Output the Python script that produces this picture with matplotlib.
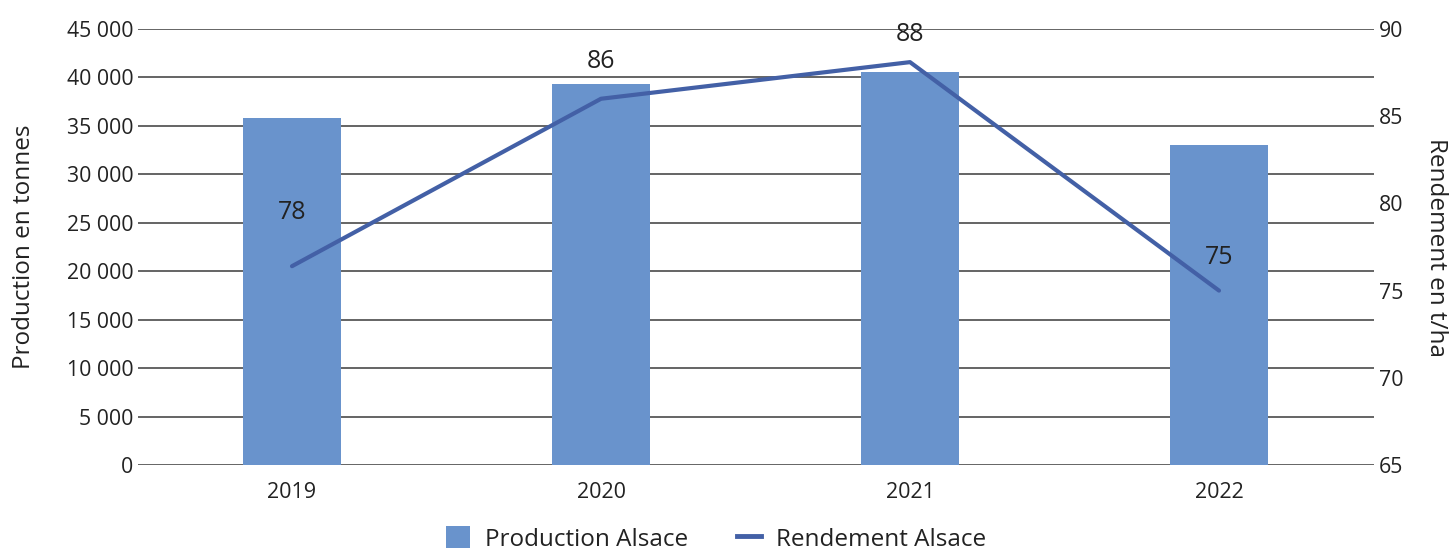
import matplotlib.pyplot as plt
from matplotlib.ticker import FuncFormatter
from matplotlib.lines import Line2D
from matplotlib.patches import Patch

plt.rcParams['font.family'] = ['Open Sans', 'DejaVu Sans']

years = ['2019', '2020', '2021', '2022']
production = [35800, 39300, 40600, 33000]
rendement = [76.4, 86.0, 88.1, 75.0]
rendement_labels = ['78', '86', '88', '75']

bar_color = '#6993CC'
line_color = '#4360A6'
grid_color = '#3a3a3a'
text_color = '#222222'

fig = plt.figure(figsize=(14.49, 5.5), dpi=100)
ax = fig.add_axes([137.5 / 1449, 85 / 550, (1373.5 - 137.5) / 1449, 436 / 550])
x = range(len(years))

ax.bar(x, production, width=0.315, color=bar_color, zorder=2)
ax.set_xlim(-0.5, 3.5)
ax.set_ylim(0, 45000)
ax.set_yticks(range(0, 45001, 5000))
ax.yaxis.set_major_formatter(FuncFormatter(lambda v, p: f'{int(v):,}'.replace(',', ' ')))
ax.grid(axis='y', color=grid_color, linewidth=1.1, zorder=0)
ax.set_axisbelow(True)
for s in ax.spines.values():
    s.set_visible(False)
ax.tick_params(axis='y', length=0, pad=3, labelsize=15.3, colors=text_color)
ax.tick_params(axis='x', length=0, pad=12, labelsize=15.5, colors=text_color)
ax.set_xticks(list(x))
ax.set_xticklabels(years)
ax.set_ylabel('Production en tonnes', fontsize=17.5, color=text_color, labelpad=22)

ax2 = ax.twinx()
ax2.plot(x, rendement, color=line_color, linewidth=3, solid_capstyle='round', zorder=3)
ax2.set_ylim(65, 90)
ax2.set_yticks(range(65, 91, 5))
for s in ax2.spines.values():
    s.set_visible(False)
ax2.tick_params(axis='y', length=0, pad=4, labelsize=15.3, colors=text_color)
ax2.set_ylabel('Rendement en t/ha', fontsize=17.5, color=text_color, rotation=270, labelpad=32)

offsets = [39, 27, 20, 24]
for i, (v, lab) in enumerate(zip(rendement, rendement_labels)):
    ax2.annotate(lab, (i, v), xytext=(0, offsets[i]), textcoords='offset points',
                 ha='center', va='center', fontsize=18, color=text_color)

handles = [Patch(facecolor=bar_color, edgecolor='none'),
           Line2D([0], [0], color=line_color, linewidth=3.5)]
fig.legend(handles, ['Production Alsace', 'Rendement Alsace'], loc='center',
           bbox_to_anchor=(716 / 1449, 1 - 539 / 550), ncol=2, frameon=False,
           fontsize=17.5, handlelength=1.0, handleheight=1.0, columnspacing=2.0,
           handletextpad=0.6, labelcolor=text_color)

fig.savefig('out.png', dpi=100)
